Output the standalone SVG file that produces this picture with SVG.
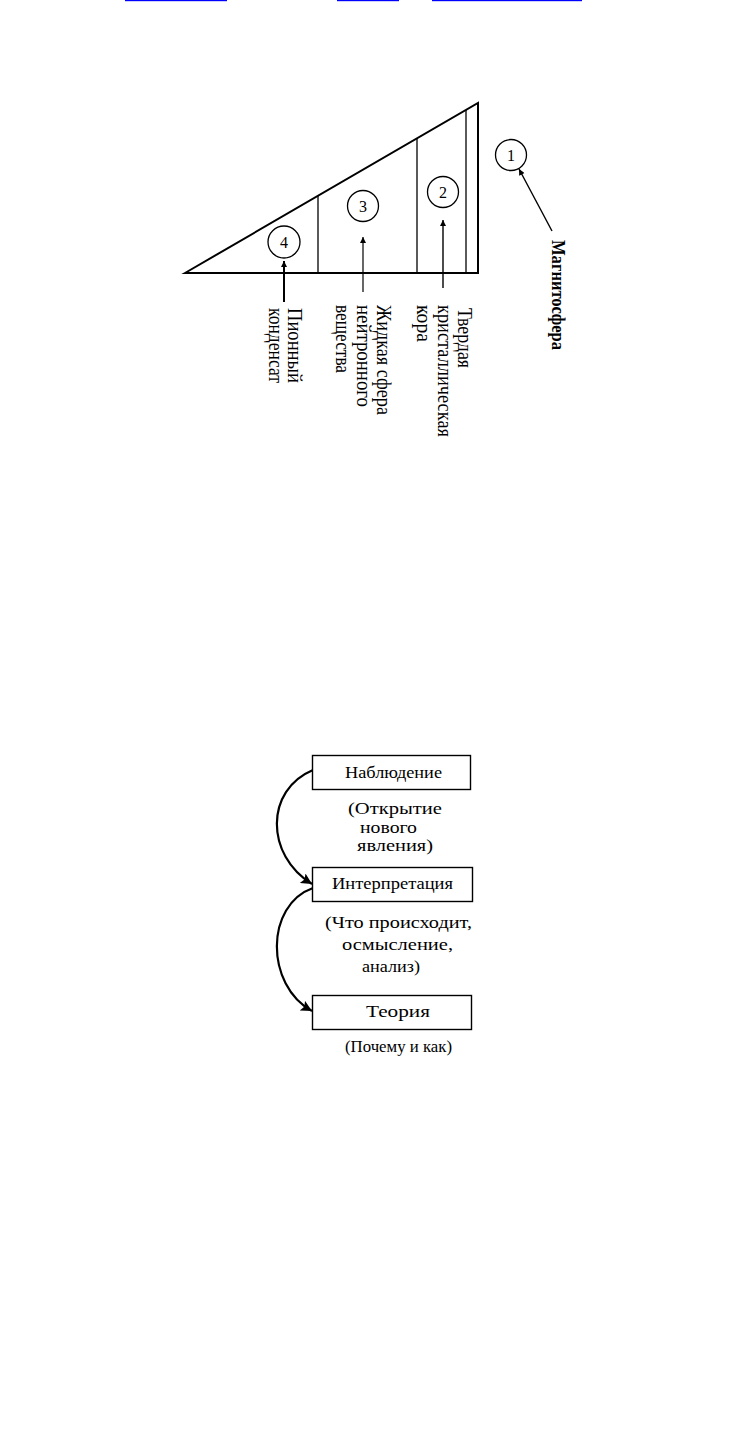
<svg xmlns="http://www.w3.org/2000/svg" width="743" height="1443" viewBox="0 0 743 1443">
<style>
.t{font-family:"Liberation Serif","Times New Roman",serif;fill:#000}
.lbl{font-size:21px}
.num{font-size:16px;text-anchor:middle}
.box{fill:#fff;stroke:#000;stroke-width:1.4}
.ft{font-size:17px}
.ln{stroke:#000;fill:none}
</style>
<defs>
<marker id="ah" viewBox="0 0 10 10" refX="10" refY="5" markerWidth="10" markerHeight="6" markerUnits="userSpaceOnUse" orient="auto"><path d="M0,0 L10,5 L0,10 z" fill="#000"/></marker>
<marker id="ahb" viewBox="0 0 10 10" refX="10" refY="5" markerWidth="13" markerHeight="11" markerUnits="userSpaceOnUse" orient="auto"><path d="M0,0 L10,5 L0,10 L2,5 z" fill="#000"/></marker>
</defs>
<rect width="743" height="1443" fill="#fff"/>
<g id="links" fill="#0000ff">
<rect x="125" y="0" width="102" height="1.2"/>
<rect x="337" y="0" width="62" height="1.2"/>
<rect x="432" y="0" width="150" height="1.2"/>
</g>
<g id="triangle">
<path d="M185,273 L478,103 L478,273 Z" class="ln" stroke-width="2" stroke-linejoin="miter"/>
<line x1="318" y1="196" x2="318" y2="273" class="ln" stroke-width="1.3"/>
<line x1="417" y1="138" x2="417" y2="273" class="ln" stroke-width="1.3"/>
<line x1="466" y1="110" x2="466" y2="273" class="ln" stroke-width="1.3"/>
</g>
<g id="n1"><circle cx="511" cy="155" r="15.5" fill="none" stroke="#000" stroke-width="1.3"/><text class="t num" x="511" y="161">1</text></g>
<g id="n2"><circle cx="443" cy="192" r="15.5" fill="none" stroke="#000" stroke-width="1.3"/><text class="t num" x="443" y="198">2</text></g>
<g id="n3"><circle cx="363" cy="206" r="15.5" fill="none" stroke="#000" stroke-width="1.3"/><text class="t num" x="363" y="212">3</text></g>
<g id="n4"><circle cx="284" cy="242" r="16" fill="none" stroke="#000" stroke-width="1.3"/><text class="t num" x="284" y="248">4</text></g>
<g id="connectors">
<line x1="552" y1="231" x2="519" y2="169" class="ln" stroke-width="1.4" marker-end="url(#ah)"/>
<line x1="443" y1="288" x2="443" y2="220" class="ln" stroke-width="1.4" marker-end="url(#ah)"/>
<line x1="363" y1="292" x2="363" y2="237" class="ln" stroke-width="1.2" marker-end="url(#ah)"/>
<line x1="284" y1="302" x2="284" y2="261" class="ln" stroke-width="2" marker-end="url(#ah)"/>
<path d="M313,770 C265,790 265,855 312,884" class="ln" stroke-width="2.2" marker-end="url(#ahb)"/>
<path d="M313,888 C265,905 265,985 312,1011" class="ln" stroke-width="2.2" marker-end="url(#ahb)"/>
</g>
<g id="lbl-magnetosphere"><text class="t" font-size="18" font-weight="bold" transform="translate(552,240) rotate(90)" textLength="110" lengthAdjust="spacingAndGlyphs">Магнитосфера</text></g>
<g id="lbl-crust">
<text class="t lbl" transform="translate(458,308) rotate(90)" textLength="60" lengthAdjust="spacingAndGlyphs">Твердая</text>
<text class="t lbl" transform="translate(438,305) rotate(90)" textLength="132" lengthAdjust="spacingAndGlyphs">кристаллическая</text>
<text class="t lbl" transform="translate(417,305) rotate(90)" textLength="37" lengthAdjust="spacingAndGlyphs">кора</text>
</g>
<g id="lbl-liquid">
<text class="t lbl" transform="translate(377,305) rotate(90)" textLength="110" lengthAdjust="spacingAndGlyphs">Жидкая сфера</text>
<text class="t lbl" transform="translate(357,305) rotate(90)" textLength="102" lengthAdjust="spacingAndGlyphs">нейтронного</text>
<text class="t lbl" transform="translate(336,305) rotate(90)" textLength="68" lengthAdjust="spacingAndGlyphs">вещества</text>
</g>
<g id="lbl-pion">
<text class="t lbl" transform="translate(288,308) rotate(90)" textLength="75" lengthAdjust="spacingAndGlyphs">Пионный</text>
<text class="t lbl" transform="translate(269,308) rotate(90)" textLength="75" lengthAdjust="spacingAndGlyphs">конденсат</text>
</g>
<g id="observation">
<rect class="box" x="312.5" y="755.5" width="158" height="34"/>
<text class="t ft" x="345" y="778" textLength="97" lengthAdjust="spacingAndGlyphs">Наблюдение</text>
<text class="t ft" x="348" y="814" textLength="94" lengthAdjust="spacingAndGlyphs">(Открытие</text>
<text class="t ft" x="360" y="833" textLength="57" lengthAdjust="spacingAndGlyphs">нового</text>
<text class="t ft" x="357" y="851" textLength="76" lengthAdjust="spacingAndGlyphs">явления)</text>
</g>
<g id="interpretation">
<rect class="box" x="312.5" y="867.5" width="160" height="34"/>
<text class="t ft" x="332" y="889" textLength="121" lengthAdjust="spacingAndGlyphs">Интерпретация</text>
<text class="t ft" x="325" y="928" textLength="147" lengthAdjust="spacingAndGlyphs">(Что происходит,</text>
<text class="t ft" x="342" y="950" textLength="111" lengthAdjust="spacingAndGlyphs">осмысление,</text>
<text class="t ft" x="362" y="972" textLength="58" lengthAdjust="spacingAndGlyphs">анализ)</text>
</g>
<g id="theory">
<rect class="box" x="312.5" y="995.5" width="159" height="34"/>
<text class="t ft" x="366" y="1017" textLength="64" lengthAdjust="spacingAndGlyphs">Теория</text>
<text class="t ft" x="345" y="1052" textLength="107" lengthAdjust="spacingAndGlyphs">(Почему и как)</text>
</g>
</svg>
